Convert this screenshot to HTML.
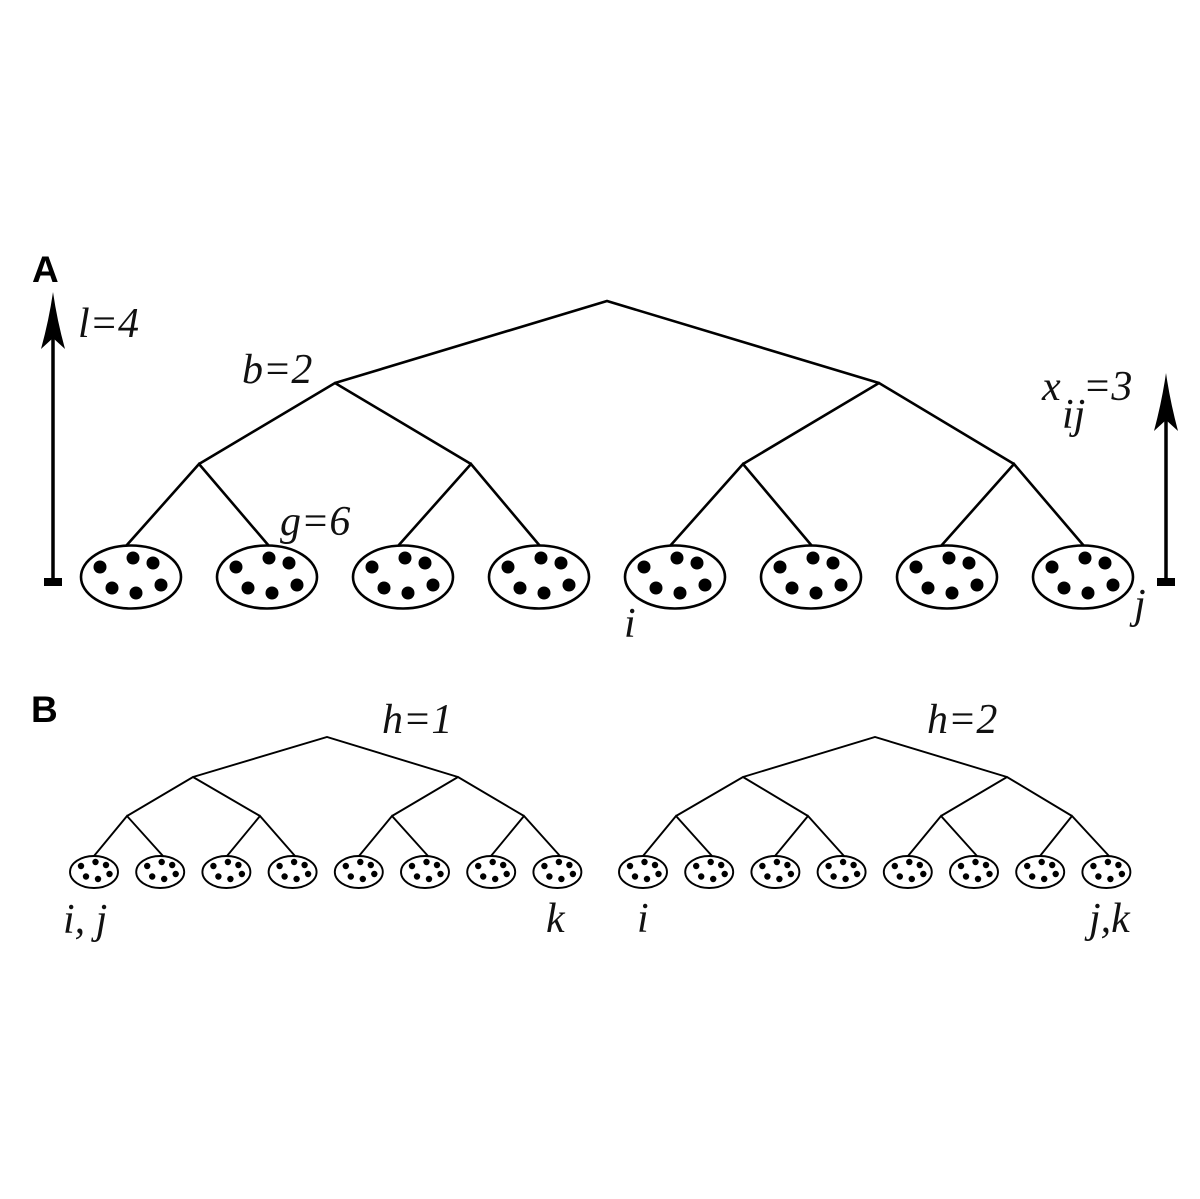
<!DOCTYPE html>
<html>
<head>
<meta charset="utf-8">
<style>
html,body{margin:0;padding:0;background:#fff;}
svg{display:block;}
.lab{font-family:"Liberation Serif","DejaVu Serif",serif;font-style:italic;font-size:42px;fill:#111;}
.hd{font-family:"Liberation Sans","DejaVu Sans",sans-serif;font-weight:bold;font-size:37px;fill:#000;}
</style>
</head>
<body>
<svg width="1200" height="1199" viewBox="0 0 1200 1199" xmlns="http://www.w3.org/2000/svg">
<rect width="1200" height="1199" fill="#fff"/>

<!-- Panel A -->
<text class="hd" x="32" y="282">A</text>

<!-- left arrow -->
<line x1="53" y1="582" x2="53" y2="330" stroke="#000" stroke-width="3.5"/>
<path d="M53,292 Q57,320 65,349 L53,338 L41,349 Q49,320 53,292 Z" fill="#000"/>
<rect x="44" y="578" width="18" height="8" fill="#000"/>

<!-- right arrow -->
<line x1="1166" y1="582" x2="1166" y2="412" stroke="#000" stroke-width="3.5"/>
<path d="M1166,373 Q1170,401 1178,431 L1166,420 L1154,431 Q1162,401 1166,373 Z" fill="#000"/>
<rect x="1157" y="578" width="18" height="8" fill="#000"/>

<g stroke="#000" stroke-width="2.6" fill="none" stroke-linejoin="miter">
  <!-- root to level1 -->
  <polyline points="335,383 607,301 879,383"/>
  <!-- level1 to level2 -->
  <polyline points="199,464 335,383 471,464"/>
  <polyline points="743,464 879,383 1014,464"/>
  <!-- level2 to leaves -->
  <polyline points="126,546 199,464 269,546"/>
  <polyline points="398,546 471,464 540,546"/>
  <polyline points="670,546 743,464 812,546"/>
  <polyline points="941,546 1014,464 1084,546"/>
  <!-- ellipses -->
  <ellipse cx="131" cy="577" rx="50" ry="31.5"/>
  <ellipse cx="267" cy="577" rx="50" ry="31.5"/>
  <ellipse cx="403" cy="577" rx="50" ry="31.5"/>
  <ellipse cx="539" cy="577" rx="50" ry="31.5"/>
  <ellipse cx="675" cy="577" rx="50" ry="31.5"/>
  <ellipse cx="811" cy="577" rx="50" ry="31.5"/>
  <ellipse cx="947" cy="577" rx="50" ry="31.5"/>
  <ellipse cx="1083" cy="577" rx="50" ry="31.5"/>
</g>

<defs>
  <g id="dA" fill="#000">
    <circle cx="-31" cy="-10" r="6.5"/>
    <circle cx="2" cy="-19" r="6.5"/>
    <circle cx="22" cy="-14" r="6.5"/>
    <circle cx="-19" cy="11" r="6.5"/>
    <circle cx="5" cy="16" r="6.5"/>
    <circle cx="30" cy="8" r="6.5"/>
  </g>
  <g id="dB" fill="#000">
    <circle cx="-13" cy="-6" r="3.2"/>
    <circle cx="1.5" cy="-10" r="3.2"/>
    <circle cx="12" cy="-7" r="3.2"/>
    <circle cx="-8" cy="4.5" r="3.2"/>
    <circle cx="4" cy="7" r="3.2"/>
    <circle cx="15.5" cy="2" r="3.2"/>
  </g>
</defs>
<use href="#dA" x="131" y="577"/>
<use href="#dA" x="267" y="577"/>
<use href="#dA" x="403" y="577"/>
<use href="#dA" x="539" y="577"/>
<use href="#dA" x="675" y="577"/>
<use href="#dA" x="811" y="577"/>
<use href="#dA" x="947" y="577"/>
<use href="#dA" x="1083" y="577"/>

<text class="lab" x="78" y="337">l=4</text>
<text class="lab" x="242" y="383">b=2</text>
<text class="lab" x="280" y="535">g=6</text>
<text class="lab" x="1042" y="400">x</text>
<text class="lab" x="1062" y="428">ij</text>
<text class="lab" x="1083" y="400">=3</text>
<text class="lab" x="624" y="637">i</text>
<text class="lab" x="1134" y="618">j</text>

<!-- Panel B -->
<text class="hd" x="31" y="722">B</text>

<g stroke="#000" stroke-width="1.9" fill="none">
  <!-- left tree -->
  <polyline points="193,777 327,737 458,777"/>
  <polyline points="127,816 193,777 260,816"/>
  <polyline points="392,816 458,777 524,816"/>
  <polyline points="94,856 127,816 163,856"/>
  <polyline points="227,856 260,816 295,856"/>
  <polyline points="359,856 392,816 428,856"/>
  <polyline points="491,856 524,816 560,856"/>
  <ellipse cx="94" cy="872" rx="24" ry="16"/>
  <ellipse cx="160.2" cy="872" rx="24" ry="16"/>
  <ellipse cx="226.4" cy="872" rx="24" ry="16"/>
  <ellipse cx="292.6" cy="872" rx="24" ry="16"/>
  <ellipse cx="358.8" cy="872" rx="24" ry="16"/>
  <ellipse cx="425" cy="872" rx="24" ry="16"/>
  <ellipse cx="491.2" cy="872" rx="24" ry="16"/>
  <ellipse cx="557.4" cy="872" rx="24" ry="16"/>
  <!-- right tree -->
  <polyline points="743,777 875,737 1007,777"/>
  <polyline points="676,816 743,777 808,816"/>
  <polyline points="941,816 1007,777 1072,816"/>
  <polyline points="643,856 676,816 712,856"/>
  <polyline points="775,856 808,816 844,856"/>
  <polyline points="908,856 941,816 977,856"/>
  <polyline points="1040,856 1072,816 1109,856"/>
  <ellipse cx="643" cy="872" rx="24" ry="16"/>
  <ellipse cx="709.2" cy="872" rx="24" ry="16"/>
  <ellipse cx="775.4" cy="872" rx="24" ry="16"/>
  <ellipse cx="841.6" cy="872" rx="24" ry="16"/>
  <ellipse cx="907.8" cy="872" rx="24" ry="16"/>
  <ellipse cx="974" cy="872" rx="24" ry="16"/>
  <ellipse cx="1040.2" cy="872" rx="24" ry="16"/>
  <ellipse cx="1106.4" cy="872" rx="24" ry="16"/>
</g>
<use href="#dB" x="94" y="872"/>
<use href="#dB" x="160.2" y="872"/>
<use href="#dB" x="226.4" y="872"/>
<use href="#dB" x="292.6" y="872"/>
<use href="#dB" x="358.8" y="872"/>
<use href="#dB" x="425" y="872"/>
<use href="#dB" x="491.2" y="872"/>
<use href="#dB" x="557.4" y="872"/>
<use href="#dB" x="643" y="872"/>
<use href="#dB" x="709.2" y="872"/>
<use href="#dB" x="775.4" y="872"/>
<use href="#dB" x="841.6" y="872"/>
<use href="#dB" x="907.8" y="872"/>
<use href="#dB" x="974" y="872"/>
<use href="#dB" x="1040.2" y="872"/>
<use href="#dB" x="1106.4" y="872"/>

<text class="lab" x="382" y="733">h=1</text>
<text class="lab" x="927" y="733">h=2</text>
<text class="lab" x="63" y="933">i, j</text>
<text class="lab" x="546" y="932">k</text>
<text class="lab" x="637" y="932">i</text>
<text class="lab" x="1089" y="932">j,k</text>
</svg>
</body>
</html>
